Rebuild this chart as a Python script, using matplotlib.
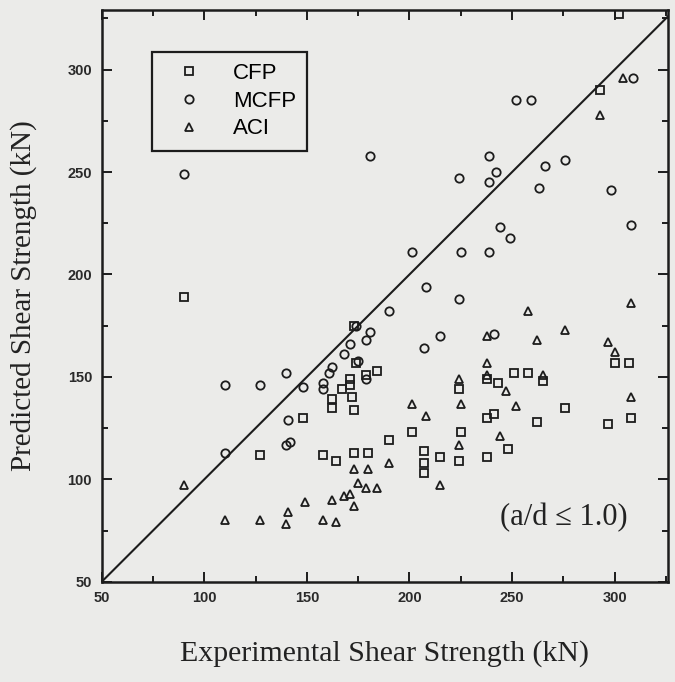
import matplotlib
matplotlib.use("Agg")
import matplotlib.pyplot as plt

# values (kN)
cfp_x = [90, 127, 148, 162, 162, 172, 173, 171, 171, 167, 174, 179, 184, 173, 158, 164, 173, 180, 190, 201,
         207, 207, 207, 215, 224, 238, 225, 224, 248, 241, 238, 238, 243, 251, 258, 265, 262, 276, 297, 308,
         300, 307, 293, 302]
cfp_y = [189, 112, 130, 139, 135, 140, 134, 149, 146, 144, 157, 151, 153, 175, 112, 109, 113, 113, 119, 123,
         114, 108, 103, 111, 109, 111, 123, 144, 115, 132, 130, 149, 147, 152, 152, 148, 128, 135, 127, 130,
         157, 157, 290, 327]

mcfp_x = [90, 181, 110, 127, 110, 140, 148, 141, 140, 142, 158, 158, 161, 162, 168, 171, 175, 174, 179, 181,
          179, 190, 201, 208, 207, 215, 224, 225, 224, 239, 241, 239, 239, 242, 244, 249, 252, 259, 263, 266,
          276, 298, 308, 309]
mcfp_y = [249, 258, 146, 146, 113, 152, 145, 129, 117, 118, 147, 144, 152, 155, 161, 166, 158, 175, 168, 172,
          149, 182, 211, 194, 164, 170, 188, 211, 247, 211, 171, 245, 258, 250, 223, 218, 285, 285, 242, 253,
          256, 241, 224, 296]

aci_x = [90, 110, 127, 140, 141, 149, 158, 164, 162, 168, 171, 173, 175, 179, 184, 173, 180, 190, 215, 201,
         208, 224, 225, 224, 244, 247, 252, 238, 238, 238, 258, 262, 276, 265, 297, 300, 308, 308, 293, 304]
aci_y = [97, 80, 80, 78, 84, 89, 80, 79, 90, 92, 93, 87, 98, 96, 96, 105, 105, 108, 97, 137,
         131, 117, 137, 149, 121, 143, 136, 151, 157, 170, 182, 168, 173, 151, 167, 162, 140, 186, 278, 296]

ticks = [50, 100, 150, 200, 250, 300]
minor_ticks = [75, 125, 175, 225, 275, 325]

bg = '#ebebe9'
ink = '#1c1c1c'
serif = ['Liberation Serif', 'DejaVu Serif']
sans = ['Liberation Sans', 'DejaVu Sans']

fig = plt.figure(figsize=(6.75, 6.82), dpi=100, facecolor=bg)
ax = fig.add_axes([0.1507, 0.147, 0.8389, 0.838], facecolor=bg)

mk = dict(linestyle='none', markerfacecolor='none', markeredgecolor=ink, markersize=6, markeredgewidth=1.3)
ax.plot(cfp_x, cfp_y, marker='s', label='CFP', **mk)
ax.plot(mcfp_x, mcfp_y, marker='o', label='MCFP', **mk)
ax.plot(aci_x, aci_y, marker='^', label='ACI', **mk)

# line of equality
ax.axline((50, 50), slope=1, color=ink, lw=1.5)

ax.set_xlim(50, 326)
ax.set_ylim(50, 329)
ax.set_xticks(ticks)
ax.set_yticks(ticks)
ax.set_xticks(minor_ticks, minor=True)
ax.set_yticks(minor_ticks, minor=True)
ax.tick_params(which='both', direction='in', top=True, right=True, color=ink, width=1.4)
ax.tick_params(which='major', length=7, pad=7)
ax.tick_params(which='minor', length=4)
for lab in ax.get_xticklabels() + ax.get_yticklabels():
    lab.set_family(sans)
    lab.set_fontsize(10.5)
    lab.set_fontweight('bold')
    lab.set_color('#2a2a2a')
for s in ax.spines.values():
    s.set_linewidth(1.8)
    s.set_color(ink)

ax.set_xlabel('Experimental Shear Strength (kN)', family=serif, fontsize=21.5, color='#222222', labelpad=25)
ax.set_ylabel('Predicted Shear Strength (kN)', family=serif, fontsize=21, color='#222222', labelpad=22)

leg = ax.legend(loc='upper left', bbox_to_anchor=(0.088, 0.927), borderaxespad=0,
                prop={'family': sans, 'size': 16}, frameon=True, fancybox=False,
                edgecolor=ink, facecolor=bg, framealpha=1, handlelength=2.4,
                handletextpad=0.75, labelspacing=0.3, borderpad=0.5)
leg.get_frame().set_linewidth(1.6)

ax.text(0.929, 0.113, '(a/d \u2264 1.0)', transform=ax.transAxes, ha='right', va='center',
        family=serif, fontsize=22, color='#222222')

fig.savefig('out.png', dpi=100, facecolor=bg)
